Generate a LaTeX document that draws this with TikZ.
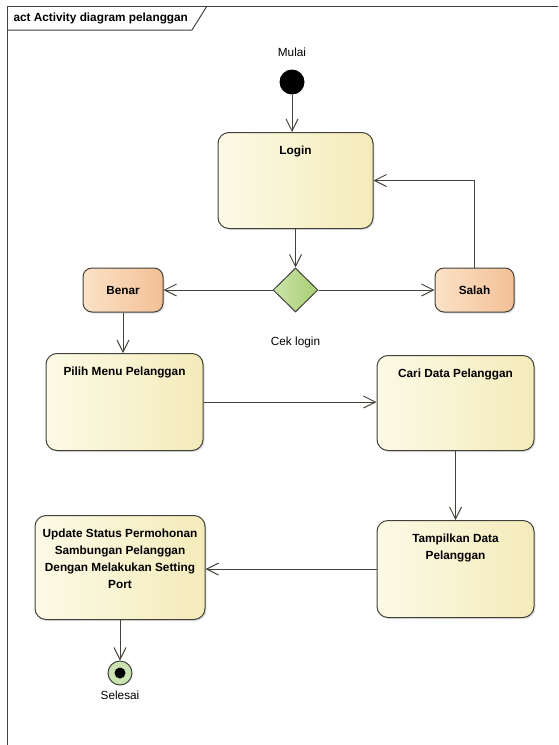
\documentclass[tikz,border=0pt]{standalone}
\usepackage{fontspec}
\setmainfont{Liberation Sans}
\usetikzlibrary{arrows.meta,shapes.geometric,shadows}
\definecolor{actleft}{RGB}{252,250,230}
\definecolor{actright}{RGB}{244,235,186}
\definecolor{peachleft}{RGB}{251,226,198}
\definecolor{peachright}{RGB}{243,192,150}
\definecolor{choiceleft}{RGB}{204,228,168}
\definecolor{choiceright}{RGB}{166,206,116}
\definecolor{endfill}{RGB}{202,227,176}
\definecolor{umlline}{RGB}{66,66,58}
\tikzset{
  act/.style={draw=umlline, line width=1pt, rounded corners=11pt,
    left color=actleft, right color=actright,
    font=\fontsize{11.8}{17}\selectfont\bfseries, align=center,
    anchor=north, inner xsep=4pt, inner ysep=0pt, text height=22pt,
    drop shadow={shadow xshift=1.5pt, shadow yshift=-1.5pt, fill=black!30, opacity=.4}},
  guard/.style={draw=umlline, line width=1pt, rounded corners=9pt,
    left color=peachleft, right color=peachright,
    font=\fontsize{11.8}{14}\selectfont\bfseries, inner sep=0pt,
    minimum width=80pt, minimum height=44pt,
    drop shadow={shadow xshift=1.5pt, shadow yshift=-1.5pt, fill=black!30, opacity=.4}},
  choice/.style={diamond, draw=umlline, line width=1pt, inner sep=0pt,
    left color=choiceleft, right color=choiceright,
    minimum width=45pt, minimum height=44pt},
  startnode/.style={circle, fill=black, inner sep=0pt, minimum size=25pt},
  endnode/.style={circle, draw=umlline, line width=1pt, fill=endfill,
    inner sep=0pt, minimum size=24pt,
    path picture={\fill[black] (path picture bounding box.center) circle (5.5pt);}},
  lbl/.style={font=\fontsize{11.8}{14}\selectfont},
  flow/.style={line width=1pt, draw=umlline, -{Straight Barb[length=12pt,width=12pt]}}
}
\begin{document}
\begin{tikzpicture}[x=1pt,y=-1pt]
      \useasboundingbox (0,0) rectangle (558,745);
      % frame
      \draw[umlline, line width=1pt] (7,745) -- (7,6) -- (558,6);
      \draw[umlline, line width=1pt] (7,30) -- (192,30) -- (207,6);
      \node[anchor=west, font=\fontsize{11.8}{14}\selectfont\bfseries] (title) at (10,18) {act Activity diagram pelanggan};
      \path
        (292,52) node[lbl] (mulai){Mulai}
        (292,82) node[startnode] (start){}
        (295.5,132) node[act, minimum width=155pt, text depth=74pt] (login){Login}
        (295.5,290) node[choice] (cek){}
        (295.5,342) node[lbl] (ceklbl){Cek login}
        (123,290) node[guard] (benar){Benar}
        (474.5,290) node[guard, minimum width=79pt] (salah){Salah}
        (124.5,353) node[act, minimum width=157pt, text depth=75pt] (pilih){Pilih Menu Pelanggan}
        (455.5,355) node[act, minimum width=157pt, text depth=73pt] (cari){Cari Data Pelanggan}
        (455.5,520) node[act, minimum width=157pt, text height=39pt, text depth=58pt] (tampil){Tampilkan Data\\Pelanggan}
        (120,515) node[act, minimum width=170pt, text height=73pt, text depth=31pt] (update){Update Status Permohonan\\Sambungan Pelanggan\\Dengan Melakukan Setting\\Port}
        (120,673) node[endnode] (end){}
        (120,695) node[lbl] (selesai){Selesai};
      \begin{scope}[flow]
        \draw (start) to (start |- login.north);
        \draw (login) to (cek);
        \draw (cek) to (benar);
        \draw (cek) to (salah);
        \draw (salah) |- (login);
        \draw (benar) to (benar |- pilih.north);
        \draw (pilih.east) to (pilih.east -| cari.west);
        \draw (cari) to (tampil);
        \draw (tampil.west) to (tampil.west -| update.east);
        \draw (update) to (end);
      \end{scope}
    \end{tikzpicture}
\end{document}
